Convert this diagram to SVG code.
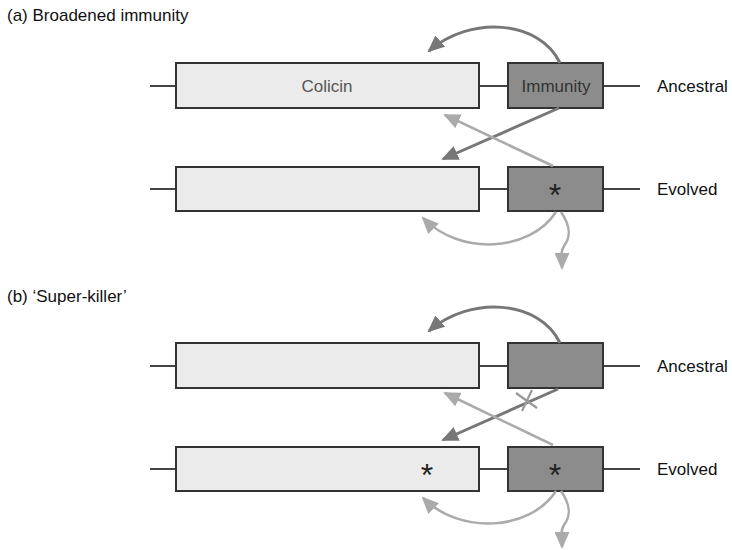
<svg xmlns="http://www.w3.org/2000/svg" width="732" height="550" viewBox="0 0 732 550">
<style>
text{font-family:"Liberation Sans",Arial,sans-serif;font-size:17px;fill:#111}
.gene{stroke:#444;stroke-width:2;fill:none}
.col{fill:#ebebeb;stroke:#333;stroke-width:2}
.imm{fill:#8c8c8c;stroke:#333;stroke-width:2}
.dark{stroke:#777;stroke-width:3;fill:none}
.light{stroke:#aaa;stroke-width:2.5;fill:none}
.ast{font-size:32px;fill:#222;text-anchor:middle}
</style>
<defs>
<marker id="ad" markerUnits="userSpaceOnUse" markerWidth="17" markerHeight="15" refX="15" refY="7.5" orient="auto"><path d="M0,0L17,7.5L0,15z" fill="#777"/></marker>
<marker id="al" markerUnits="userSpaceOnUse" markerWidth="17" markerHeight="15" refX="15" refY="7.5" orient="auto"><path d="M0,0L17,7.5L0,15z" fill="#aaa"/></marker>
</defs>
<text x="7" y="21">(a) Broadened immunity</text>
<text x="7" y="302">(b) ‘Super-killer’</text>
<g id="a-ancestral">
<line class="gene" x1="150" y1="86" x2="640" y2="86"/>
<rect class="col" x="176" y="63" width="303" height="45"/>
<rect class="imm" x="508" y="63" width="95" height="45"/>
<text x="327" y="92" text-anchor="middle" style="fill:#555">Colicin</text>
<text x="556" y="92" text-anchor="middle" style="fill:#333">Immunity</text>
<text x="657" y="92">Ancestral</text>
</g>
<g id="a-evolved">
<line class="gene" x1="150" y1="189" x2="640" y2="189"/>
<rect class="col" x="176" y="167" width="303" height="44"/>
<rect class="imm" x="508" y="167" width="95" height="44"/>
<text class="ast" x="555" y="206">*</text>
<text x="657" y="195">Evolved</text>
</g>
<g id="b-ancestral">
<line class="gene" x1="150" y1="366" x2="640" y2="366"/>
<rect class="col" x="176" y="343" width="303" height="45"/>
<rect class="imm" x="508" y="343" width="95" height="45"/>
<text x="657" y="372">Ancestral</text>
</g>
<g id="b-evolved">
<line class="gene" x1="150" y1="469" x2="640" y2="469"/>
<rect class="col" x="176" y="447" width="303" height="44"/>
<rect class="imm" x="508" y="447" width="95" height="44"/>
<text class="ast" x="427" y="486">*</text>
<text class="ast" x="555" y="486">*</text>
<text x="657" y="475">Evolved</text>
</g>
<g id="connectors">
<path class="dark" d="M560,63 C540,20 470,15 429,51" marker-end="url(#ad)"/>
<path class="dark" d="M559,108 L443,159" marker-end="url(#ad)"/>
<path class="light" d="M553,166 L445,115" marker-end="url(#al)"/>
<path class="light" d="M556,212 C530,252 460,256 423,218" marker-end="url(#al)"/>
<path class="light" d="M561,212 C572,228 570,238 564,246 C560,252 562,258 562,268" marker-end="url(#al)"/>
<path class="dark" d="M560,343 C540,300 470,295 429,331" marker-end="url(#ad)"/>
<path class="dark" d="M558,389 L443,440" marker-end="url(#ad)"/>
<path class="light" d="M553,445 L445,393" marker-end="url(#al)"/>
<path class="light" d="M556,491 C530,531 460,535 423,498" marker-end="url(#al)"/>
<path class="light" d="M561,491 C572,507 570,517 564,525 C560,531 562,537 562,547" marker-end="url(#al)"/>
<path d="M516,393 L537,408 M522,411 L532,390" stroke="#999" stroke-width="2.2" fill="none"/>
</g>
</svg>
